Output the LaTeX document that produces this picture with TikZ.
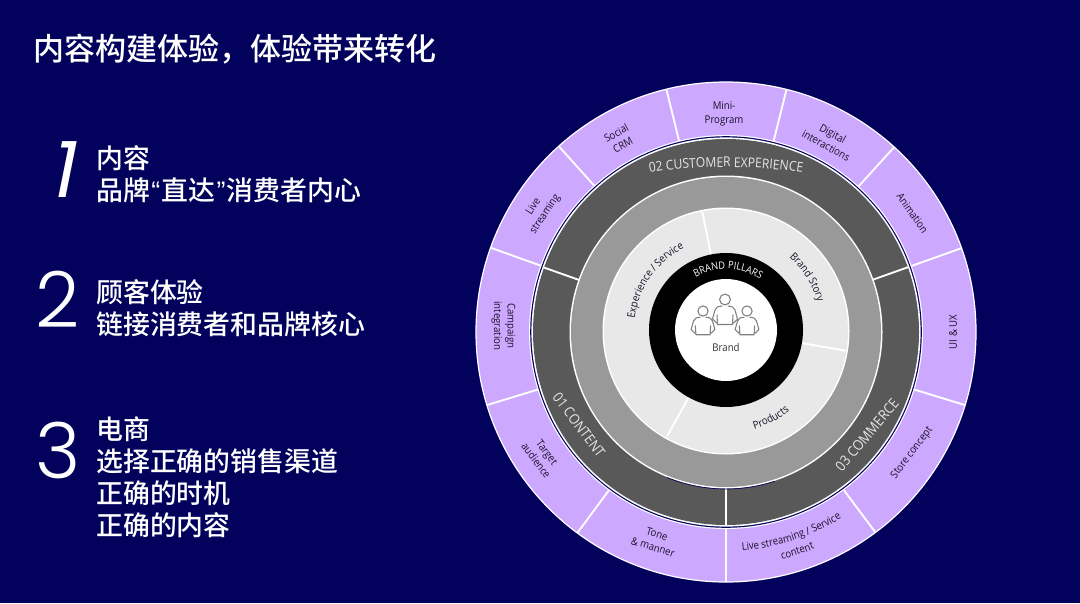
\documentclass[tikz,border=0pt]{standalone}
\usepackage{fontspec}
\usetikzlibrary{decorations.text}
\setmainfont[FakeStretch=0.9]{Open Sans}
\newfontfamily\cjk{Noto Sans CJK SC Medium}
\newfontfamily\latq{Liberation Sans}
\newfontfamily\numf{Poppins Light}
\newfontfamily\numslant[FakeSlant=0.2]{Poppins}
\definecolor{navy}{HTML}{02025C}
\definecolor{lilac}{HTML}{CDA8FF}
\definecolor{darkring}{HTML}{595959}
\definecolor{midring}{HTML}{999999}
\definecolor{lightring}{HTML}{E8E8E8}
\definecolor{labelink}{HTML}{1A1028}
\definecolor{ringtext}{HTML}{E6E6E6}
\definecolor{iconline}{HTML}{808080}
\tikzset{
  x=.75pt,y=.75pt,
  sep/.style={draw=white,line width=1.4pt},
  headline/.style={text=white,font=\cjk\fontsize{23.25}{28}\selectfont,inner sep=0pt,anchor=west},
  body/.style={text=white,font=\cjk\fontsize{20.15}{24}\selectfont,inner sep=0pt,anchor=west,align=left},
  bignum/.style={text=white,font=\numf\fontsize{58}{58}\selectfont,inner sep=0pt},
  seglabel/.style={text=labelink,font=\fontsize{8}{10.3}\selectfont,inner sep=0pt,align=center},
  ringlabel/.style={text=ringtext,font=\fontsize{10.7}{12}\selectfont,inner sep=0pt},
  person/.style={draw=iconline,line width=.8pt,line join=round,line cap=round},
}
% arc text: radius, start angle, end angle, colour, font, text
\newcommand{\arclabel}[6]{%
  \path[decorate,decoration={text along path,text align=center,
     text={|\color{#4}#5|#6}}]
     (#2:#1) arc[start angle=#2,end angle=#3,radius=#1];}
\newcommand{\personicon}[3]{% x, y(down px), scale
  \begin{scope}[shift={(#1,-#2)},scale=#3]
    \draw[person] (0,10.5) circle[radius=5.4];
    \draw[person] (-3,4) .. controls (-7,3.6) and (-9,3) .. (-10,0)
      -- (-12.5,-9) -- (-8.5,-13) (-8,-5) -- (-7.5,-14.5) -- (7.5,-14.5) -- (8,-5)
      (12.5,-9) -- (10,0) .. controls (9,3) and (7,3.6) .. (3,4) (12.5,-9) -- (8.5,-13);
  \end{scope}}
\begin{document}
\begin{tikzpicture}
\useasboundingbox (0,0) rectangle (1080,-603);
\fill[navy] (0,0) rectangle (1080,-603);

% left column
\node[headline] (title) at (33,-49) {内容构建体验，体验带来转化};
\node[bignum,font=\numslant\fontsize{58}{58}\selectfont] (n1) at (61,-170) {1};
\node[bignum] (n2) at (58,-299) {2};
\node[bignum] (n3) at (58,-450) {3};
\node[body] (t1) at (96,-174) {内容\\品牌{\latq\hspace{1pt}“\hspace{1pt}}直达{\latq\hspace{1pt}”\hspace{1pt}}消费者内心};
\node[body] (t2) at (96,-308) {顾客体验\\链接消费者和品牌核心};
\node[body] (t3) at (96,-477) {电商\\选择正确的销售渠道\\正确的时机\\正确的内容};

% rings
\begin{scope}[shift={(726,-332)}]
  \fill[lilac] (0,0) circle[radius=250];
  \draw[white,line width=.9pt] (0,0) circle[radius=250];
  \foreach \a in {76,47.7,19.6,-17,-53.3,-90,-126.5,-163,160.3,132,103.8}
    \draw[sep] (\a:197) -- (\a:250);
  \fill[white] (0,0) circle[radius=197];
  \fill[navy] (0,0) circle[radius=195.8];
  \fill[white] (0,0) circle[radius=194.6];
  \fill[darkring] (0,0) circle[radius=193];
  \fill[white] (0,0) circle[radius=156.5];
  \foreach \a in {160.5,19.6,-90}
    \draw[sep] (\a:156) -- (\a:193.2);
  \draw[navy,line width=.5pt] (248:157) arc[start angle=248,end angle=288,radius=157];
  \fill[midring] (0,0) circle[radius=155];
  \begin{scope}[shift={(0,1)}]
    \fill[white] (0,0) circle[radius=123.5];
    \fill[lightring] (0,0) circle[radius=122];
  \end{scope}
  \begin{scope}[shift={(0,2)}]
    \foreach \a in {101.3,241,-9.8}
      \draw[sep] (\a:70) -- (\a:121.5);
    \fill[black] (0,0) circle[radius=77];
    \fill[white] (0,0) circle[radius=51];
    % curved labels in the inner rings
    \arclabel{61}{123}{53}{white}{\fontsize{7.7}{8}\selectfont}{BRAND PILLARS}
    \arclabel{92}{180}{110}{labelink}{\fontsize{8}{8}\selectfont}{Experience / Service}
    \arclabel{96}{60}{6}{labelink}{\fontsize{8}{8}\selectfont}{Brand Story}
    \arclabel{103}{-90}{-36}{labelink}{\fontsize{8}{8}\selectfont}{Products}
  \end{scope}
  % curved labels in the outer ring
  \arclabel{219}{-90}{-54}{labelink}{\fontsize{8}{8}\selectfont}{Live streaming / Service}
  \arclabel{234}{-80}{-64}{labelink}{\fontsize{8}{8}\selectfont}{content}
\end{scope}
% almost flat label of the dark ring
\begin{scope}[shift={(726,-669)}]
  \arclabel{502}{100}{80}{ringtext}{\fontsize{10.1}{12}\selectfont}{02 CUSTOMER EXPERIENCE}
\end{scope}

\node[ringlabel,rotate=-53] (content) at (579,-425) {01 CONTENT};
\node[ringlabel,rotate=50] (commerce) at (867,-435) {03 COMMERCE};

\node[seglabel] (mini) at (724,-113.5) {Mini-\\Program};
\node[seglabel,rotate=29] (social) at (619.5,-139) {Social\\CRM};
\node[seglabel,rotate=56] (live) at (539.5,-210.5) {Live\\streaming};
\node[seglabel,rotate=-90] (campaign) at (503.5,-326) {Campaign\\integration};
\node[seglabel,rotate=-53] (target) at (541.5,-456.5) {Target\\audience};
\node[seglabel,rotate=-17] (tone) at (655,-540.5) {Tone\\\& manner};
\node[seglabel,rotate=53] (store) at (912,-453) {Store concept};
\node[seglabel,rotate=90] (ui) at (953,-332) {UI \& UX};
\node[seglabel,rotate=-55] (anim) at (912.5,-213) {Animation};
\node[seglabel,rotate=-29] (digital) at (829.5,-139.5) {Digital\\interactions};

% brand icon and label
\personicon{725}{310}{1}
\personicon{703}{321}{.95}
\personicon{747}{321}{.95}
\node[seglabel,text=black!80] (brand) at (726,-347) {Brand};
\end{tikzpicture}
\end{document}
